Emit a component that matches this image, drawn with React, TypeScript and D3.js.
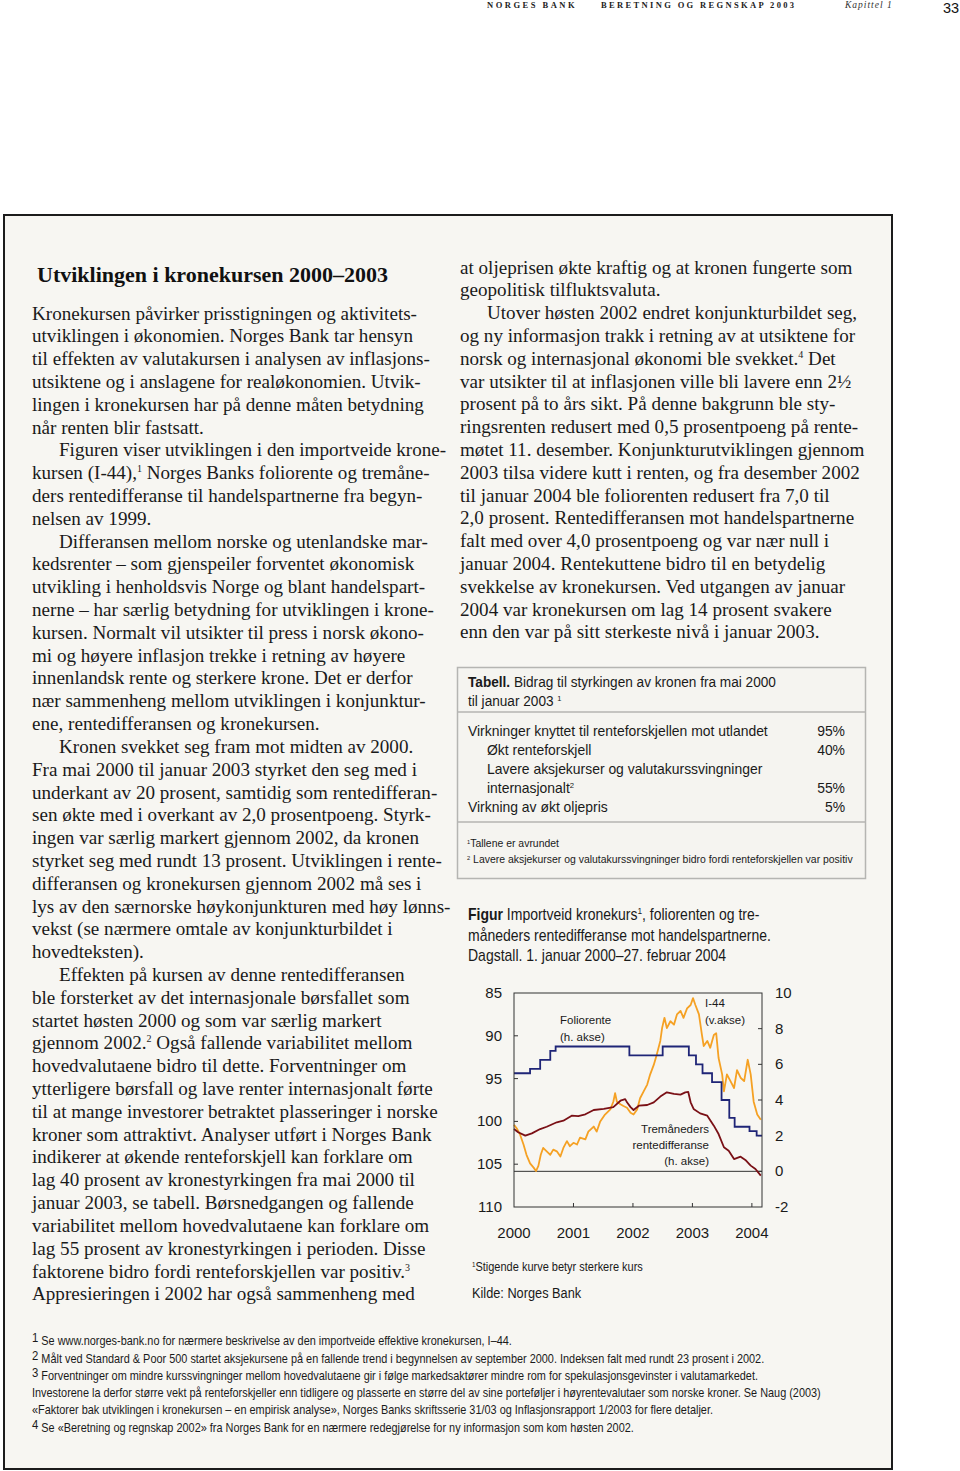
import React from 'react';
import * as d3 from 'd3';

// ---------- chart data ----------
const years = [2000, 2001, 2002, 2003, 2004];
const leftTicks = [85, 90, 95, 100, 105, 110];
const rightTicks = [10, 8, 6, 4, 2, 0, -2];

const i44Dates = [2000.00, 2000.045, 2000.10, 2000.16, 2000.21, 2000.27, 2000.33, 2000.37, 2000.41, 2000.45, 2000.49, 2000.55, 2000.61, 2000.66, 2000.72, 2000.78, 2000.83, 2000.89, 2000.94, 2001.00, 2001.06, 2001.11, 2001.20, 2001.25, 2001.34, 2001.39, 2001.45, 2001.53, 2001.62, 2001.67, 2001.70, 2001.73, 2001.79, 2001.84, 2001.90, 2001.96, 2002.01, 2002.07, 2002.12, 2002.18, 2002.24, 2002.29, 2002.35, 2002.40, 2002.46, 2002.49, 2002.53, 2002.57, 2002.63, 2002.69, 2002.74, 2002.80, 2002.85, 2002.91, 2002.97, 2003.01, 2003.05, 2003.11, 2003.16, 2003.19, 2003.25, 2003.30, 2003.36, 2003.40, 2003.44, 2003.50, 2003.53, 2003.58, 2003.64, 2003.70, 2003.75, 2003.81, 2003.87, 2003.93, 2003.98, 2004.03, 2004.09, 2004.15];
const i44Values = [100.4, 100.8, 101.5, 102.7, 103.9, 104.9, 105.4, 105.8, 105.2, 103.9, 103.1, 103.5, 103.9, 103.3, 103.5, 104.1, 103.1, 102.3, 102.9, 102.5, 102.7, 101.9, 102.1, 101.2, 100.6, 101.2, 100.0, 99.2, 98.6, 97.7, 96.7, 97.7, 98.0, 98.2, 98.4, 99.0, 99.2, 98.6, 97.3, 96.5, 95.7, 94.5, 93.4, 92.2, 90.6, 89.1, 87.9, 89.1, 88.3, 88.7, 87.5, 87.1, 87.9, 86.8, 86.4, 85.6, 86.4, 87.5, 89.9, 91.2, 90.6, 91.4, 89.9, 89.7, 92.6, 94.5, 96.5, 94.5, 95.3, 96.1, 94.0, 94.9, 95.3, 92.8, 94.5, 97.7, 99.2, 99.8];

const diffDates = [2000.00, 2000.07, 2000.19, 2000.30, 2000.44, 2000.55, 2000.72, 2000.83, 2000.97, 2001.08, 2001.20, 2001.34, 2001.51, 2001.67, 2001.79, 2001.87, 2001.90, 2001.96, 2002.01, 2002.10, 2002.24, 2002.35, 2002.46, 2002.57, 2002.69, 2002.80, 2002.88, 2002.93, 2002.97, 2003.02, 2003.13, 2003.25, 2003.36, 2003.44, 2003.53, 2003.61, 2003.70, 2003.81, 2003.89, 2003.98, 2004.06, 2004.15];
const diffValues = [2.37, 2.19, 2.0, 2.13, 2.37, 2.5, 2.75, 2.84, 3.12, 3.1, 3.2, 3.44, 3.5, 3.6, 3.96, 4.05, 3.87, 3.6, 3.44, 3.68, 3.72, 3.87, 4.19, 4.43, 4.34, 4.3, 4.43, 4.45, 3.87, 3.5, 3.25, 3.12, 2.56, 2.09, 1.35, 1.16, 0.69, 0.82, 0.64, 0.32, 0.13, -0.24];

const folioDates = [2000.00, 2000.27, 2000.44, 2000.61, 2000.70, 2001.94, 2002.50, 2002.94, 2003.06, 2003.17, 2003.33, 2003.49, 2003.62, 2003.71, 2003.96, 2004.08, 2004.17];
const folioValues = [5.5, 5.75, 6.25, 6.75, 7.0, 6.5, 7.0, 6.5, 6.0, 5.5, 5.0, 4.0, 3.0, 2.5, 2.25, 2.0, 2.0];

// ---------- text content ----------
const titleText = 'Utviklingen i kronekursen 2000–2003';
const leftColumn = [
  'Kronekursen påvirker prisstigningen og aktivitets-',
  'utviklingen i økonomien. Norges Bank tar hensyn',
  'til effekten av valutakursen i analysen av inflasjons-',
  'utsiktene og i anslagene for realøkonomien. Utvik-',
  'lingen i kronekursen har på denne måten betydning',
  'når renten blir fastsatt.',
  '\tFiguren viser utviklingen i den importveide krone-',
  'kursen (I-44),^1 Norges Banks foliorente og tremåne-',
  'ders rentedifferanse til handelspartnerne fra begyn-',
  'nelsen av 1999.',
  '\tDifferansen mellom norske og utenlandske mar-',
  'kedsrenter – som gjenspeiler forventet økonomisk',
  'utvikling i henholdsvis Norge og blant handelspart-',
  'nerne – har særlig betydning for utviklingen i krone-',
  'kursen. Normalt vil utsikter til press i norsk økono-',
  'mi og høyere inflasjon trekke i retning av høyere',
  'innenlandsk rente og sterkere krone. Det er derfor',
  'nær sammenheng mellom utviklingen i konjunktur-',
  'ene, rentedifferansen og kronekursen.',
  '\tKronen svekket seg fram mot midten av 2000.',
  'Fra mai 2000 til januar 2003 styrket den seg med i',
  'underkant av 20 prosent, samtidig som rentedifferan-',
  'sen økte med i overkant av 2,0 prosentpoeng. Styrk-',
  'ingen var særlig markert gjennom 2002, da kronen',
  'styrket seg med rundt 13 prosent. Utviklingen i rente-',
  'differansen og kronekursen gjennom 2002 må ses i',
  'lys av den særnorske høykonjunkturen med høy lønns-',
  'vekst (se nærmere omtale av konjunkturbildet i',
  'hovedteksten).',
  '\tEffekten på kursen av denne rentedifferansen',
  'ble forsterket av det internasjonale børsfallet som',
  'startet høsten 2000 og som var særlig markert',
  'gjennom 2002.^2 Også fallende variabilitet mellom',
  'hovedvalutaene bidro til dette. Forventninger om',
  'ytterligere børsfall og lave renter internasjonalt førte',
  'til at mange investorer betraktet plasseringer i norske',
  'kroner som attraktivt. Analyser utført i Norges Bank',
  'indikerer at økende renteforskjell kan forklare om',
  'lag 40 prosent av kronestyrkingen fra mai 2000 til',
  'januar 2003, se tabell. Børsnedgangen og fallende',
  'variabilitet mellom hovedvalutaene kan forklare om',
  'lag 55 prosent av kronestyrkingen i perioden. Disse',
  'faktorene bidro fordi renteforskjellen var positiv.^3',
  'Appresieringen i 2002 har også sammenheng med',
];
const rightColumn = [
  'at oljeprisen økte kraftig og at kronen fungerte som',
  'geopolitisk tilfluktsvaluta.',
  '\tUtover høsten 2002 endret konjunkturbildet seg,',
  'og ny informasjon trakk i retning av at utsiktene for',
  'norsk og internasjonal økonomi ble svekket.^4 Det',
  'var utsikter til at inflasjonen ville bli lavere enn 2½',
  'prosent på to års sikt. På denne bakgrunn ble sty-',
  'ringsrenten redusert med 0,5 prosentpoeng på rente-',
  'møtet 11. desember. Konjunkturutviklingen gjennom',
  '2003 tilsa videre kutt i renten, og fra desember 2002',
  'til januar 2004 ble foliorenten redusert fra 7,0 til',
  '2,0 prosent. Rentedifferansen mot handelspartnerne',
  'falt med over 4,0 prosentpoeng og var nær null i',
  'januar 2004. Rentekuttene bidro til en betydelig',
  'svekkelse av kronekursen. Ved utgangen av januar',
  '2004 var kronekursen om lag 14 prosent svakere',
  'enn den var på sitt sterkeste nivå i januar 2003.',
];
const tableTitle = ['**Tabell.** Bidrag til styrkingen av kronen fra mai 2000', 'til januar 2003 ^1'];
const tableLabels = ['Virkninger knyttet til renteforskjellen mot utlandet', '\tØkt renteforskjell', '\tLavere aksjekurser og valutakurssvingninger', '\tinternasjonalt^2', 'Virkning av økt oljepris'];
const tableValues = ['95%', '40%', '', '55%', '5%'];
const tableNotes = ['^1Tallene er avrundet', '^2 Lavere aksjekurser og valutakurssvingninger bidro fordi renteforskjellen var positiv'];
const figureTitle = ['**Figur** Importveid kronekurs^1, foliorenten og tre-', 'måneders rentedifferanse mot handelspartnerne.', 'Dagstall. 1. januar 2000–27. februar 2004'];
const figureNotes = ['^1Stigende kurve betyr sterkere kurs', 'Kilde: Norges Bank'];
const pageNotes = [
  '^1 Se www.norges-bank.no for nærmere beskrivelse av den importveide effektive kronekursen, I–44.',
  '^2 Målt ved Standard & Poor 500 startet aksjekursene på en fallende trend i begynnelsen av september 2000. Indeksen falt med rundt 23 prosent i 2002.',
  '^3 Forventninger om mindre kurssvingninger mellom hovedvalutaene gir i følge markedsaktører mindre rom for spekulasjonsgevinster i valutamarkedet.',
  'Investorene la derfor større vekt på renteforskjeller enn tidligere og plasserte en større del av sine porteføljer i høyrentevalutaer som norske kroner. Se Naug (2003)',
  '«Faktorer bak utviklingen i kronekursen – en empirisk analyse», Norges Banks skriftsserie 31/03 og Inflasjonsrapport 1/2003 for flere detaljer.',
  '^4 Se «Beretning og regnskap 2002» fra Norges Bank for en nærmere redegjørelse for ny informasjon som kom høsten 2002.',
];

const SERIF = "'Liberation Serif', 'Times New Roman', serif";
const SANS = "'Liberation Sans', Arial, sans-serif";

// rich text: **bold** and ^n superscripts
function rich(text: string, supSize: number, supDy: number) {
  const parts = text.split(/(\*\*[^*]+\*\*|\^\d)/).filter((p) => p !== '');
  const out: React.ReactNode[] = [];
  let pending = 0;
  parts.forEach((p, i) => {
    if (p.startsWith('**')) {
      out.push(<tspan key={i} fontWeight="bold" dy={pending || undefined}>{p.slice(2, -2)}</tspan>);
      pending = 0;
    } else if (p.startsWith('^')) {
      out.push(<tspan key={i} fontSize={supSize} dy={-supDy + pending}>{p.slice(1)}</tspan>);
      pending = supDy;
    } else {
      out.push(<tspan key={i} dy={pending || undefined}>{p}</tspan>);
      pending = 0;
    }
  });
  return out;
}

function NText({ x, y, size, sx = 0.88, text, anchor = 'start', fill = '#1a1a1a', supSize, supDy, weight }: any) {
  return (
    <g transform={`translate(${x},${y}) scale(${sx},1)`}>
      <text x={0} y={0} fontFamily={SANS} fontSize={size} textAnchor={anchor} fill={fill} fontWeight={weight}>
        {rich(text, supSize ?? size * 0.6, supDy ?? size * 0.38)}
      </text>
    </g>
  );
}

export default function App() {
  // chart geometry
  const x = d3.scaleLinear().domain([2000, 2004.17]).range([514, 762]);
  const yL = d3.scaleLinear().domain([85, 110]).range([993, 1207]);
  const yR = d3.scaleLinear().domain([10, -2]).range([993, 1207]);

  const i44 = d3.zip(i44Dates, i44Values) as [number, number][];
  const diff = d3.zip(diffDates, diffValues) as [number, number][];
  const folio = d3.zip(folioDates, folioValues) as [number, number][];

  const lineL = d3.line<[number, number]>().x((d) => x(d[0])).y((d) => yL(d[1]));
  const lineR = d3.line<[number, number]>().x((d) => x(d[0])).y((d) => yR(d[1]));
  const stepR = d3.line<[number, number]>().x((d) => x(d[0])).y((d) => yR(d[1])).curve(d3.curveStepAfter);

  const lh = 22.81;
  const [x0, x1] = x.range();
  const [yTop, yBot] = yL.range();
  const bodySize = 19.1;

  return (
    <>
      <style>{'html,body{margin:0;padding:0;overflow:hidden;background:#fff}'}</style>
      <svg width={960} height={1471} style={{ position: 'absolute', left: 0, top: 0, display: 'block' }}>
        <rect x={0} y={0} width={960} height={1471} fill="#ffffff" />
        {/* header */}
        <text x={487} y={7.5} fontFamily={SERIF} fontWeight="bold" fontSize={8.5} letterSpacing={2.5} fill="#222">NORGES BANK</text>
        <text x={601} y={7.5} fontFamily={SERIF} fontWeight="bold" fontSize={8.5} letterSpacing={2.35} fill="#222">BERETNING OG REGNSKAP 2003</text>
        <text x={845} y={7.5} fontFamily={SERIF} fontStyle="italic" fontSize={9.5} letterSpacing={1} fill="#333">Kapittel 1</text>
        <text x={943} y={13} fontFamily={SANS} fontSize={14.5} fill="#111">33</text>

        {/* box */}
        <rect x={4} y={215} width={888} height={1254} fill="#f7f6f2" stroke="#1c1c1c" strokeWidth={2} />

        {/* title */}
        <text x={37} y={282} fontFamily={SERIF} fontWeight="bold" fontSize={22} fill="#111">{titleText}</text>

        {/* left column */}
        {leftColumn.map((l, i) => (
          <text key={'l' + i} x={l.startsWith('\t') ? 59 : 32} y={319.5 + i * lh} fontFamily={SERIF} fontSize={bodySize} fill="#1a1a1a">
            {rich(l.replace('\t', ''), 10, 7)}
          </text>
        ))}
        {/* right column */}
        {rightColumn.map((l, i) => (
          <text key={'r' + i} x={l.startsWith('\t') ? 487 : 460} y={273.5 + i * lh} fontFamily={SERIF} fontSize={bodySize} fill="#1a1a1a">
            {rich(l.replace('\t', ''), 10, 7)}
          </text>
        ))}

        {/* table */}
        <rect x={457.5} y={667.5} width={408} height={211} fill="#f5f4f0" stroke="#b5b5b2" strokeWidth={1.5} />
        <line x1={458} x2={865} y1={712} y2={712} stroke="#b5b5b2" strokeWidth={1.5} />
        <line x1={458} x2={865} y1={822} y2={822} stroke="#b5b5b2" strokeWidth={1.5} />
        {tableTitle.map((t, i) => (
          <NText key={'tt' + i} x={468} y={687 + i * 18.5} size={14.5} sx={0.94} text={t} supSize={8} supDy={5} />
        ))}
        {tableLabels.map((t, i) => (
          <NText key={'tl' + i} x={t.startsWith('\t') ? 487 : 468} y={736 + i * 19} size={14.5} sx={0.96} text={t.replace('\t', '')} supSize={8} supDy={5} />
        ))}
        {tableValues.map((t, i) => (
          <NText key={'tv' + i} x={845} y={736 + i * 19} size={14.5} sx={0.96} text={t} anchor="end" />
        ))}
        {tableNotes.map((t, i) => (
          <NText key={'tn' + i} x={467} y={847 + i * 15.5} size={11} sx={0.95} text={t} supSize={6} supDy={3} />
        ))}

        {/* figure title */}
        {figureTitle.map((t, i) => (
          <NText key={'ft' + i} x={468} y={920 + i * 20.5} size={16} sx={0.875} text={t} supSize={9.5} supDy={6} />
        ))}

        {/* chart */}
        <g>
          <line x1={x0} x2={x1} y1={yR(0)} y2={yR(0)} stroke="#333" strokeWidth={1} />
          {leftTicks.slice(1, -1).map((t) => (
            <line key={'lt' + t} x1={x0} x2={x0 + 4} y1={yL(t)} y2={yL(t)} stroke="#333" strokeWidth={1} />
          ))}
          {rightTicks.slice(1, -1).map((t) => (
            <line key={'rt' + t} x1={x1 - 4} x2={x1} y1={yR(t)} y2={yR(t)} stroke="#333" strokeWidth={1} />
          ))}
          {years.slice(1).map((yv) => (
            <line key={'xt' + yv} x1={x(yv)} x2={x(yv)} y1={yBot} y2={yBot - 4} stroke="#333" strokeWidth={1} />
          ))}
          <path d={lineL(i44) || ''} fill="none" stroke="#f5a124" strokeWidth={1.8} strokeLinejoin="round" />
          <path d={stepR(folio) || ''} fill="none" stroke="#1f2577" strokeWidth={1.8} />
          <path d={lineR(diff) || ''} fill="none" stroke="#7a1016" strokeWidth={1.8} strokeLinejoin="round" />
          <rect x={x0} y={yTop} width={x1 - x0} height={yBot - yTop} fill="none" stroke="#333" strokeWidth={1} />
          {leftTicks.map((t) => (
            <text key={'ll' + t} x={502} y={yL(t) + 5} textAnchor="end" fontFamily={SANS} fontSize={15} fill="#1a1a1a">{t}</text>
          ))}
          {rightTicks.map((t) => (
            <text key={'rl' + t} x={775} y={yR(t) + 5} fontFamily={SANS} fontSize={15} fill="#1a1a1a">{t}</text>
          ))}
          {years.map((yv) => (
            <text key={'yl' + yv} x={x(yv)} y={1238} textAnchor="middle" fontFamily={SANS} fontSize={15} fill="#1a1a1a">{yv}</text>
          ))}
          <text fontFamily={SANS} fontSize={11.5} fill="#1a1a1a">
            <tspan x={560} y={1024}>Foliorente</tspan>
            <tspan x={560} y={1041}>(h. akse)</tspan>
          </text>
          <text fontFamily={SANS} fontSize={11.5} fill="#1a1a1a">
            <tspan x={705} y={1007}>I-44</tspan>
            <tspan x={705} y={1024}>(v.akse)</tspan>
          </text>
          <text fontFamily={SANS} fontSize={11.5} fill="#1a1a1a" textAnchor="end">
            <tspan x={709} y={1133}>Tremåneders</tspan>
            <tspan x={709} y={1149}>rentedifferanse</tspan>
            <tspan x={709} y={1165}>(h. akse)</tspan>
          </text>
        </g>

        {/* figure notes */}
        <NText x={472} y={1271} size={12.5} sx={0.88} text={figureNotes[0]} supSize={7} supDy={4} />
        <NText x={472} y={1298} size={14.5} sx={0.88} text={figureNotes[1]} />

        {/* page footnotes */}
        {pageNotes.map((t, i) => (
          <NText key={'pn' + i} x={32} y={[1345, 1363, 1380, 1397, 1414, 1432][i]} size={12.5} sx={0.873} text={t} supSize={13} supDy={3} />
        ))}
      </svg>
    </>
  );
}
